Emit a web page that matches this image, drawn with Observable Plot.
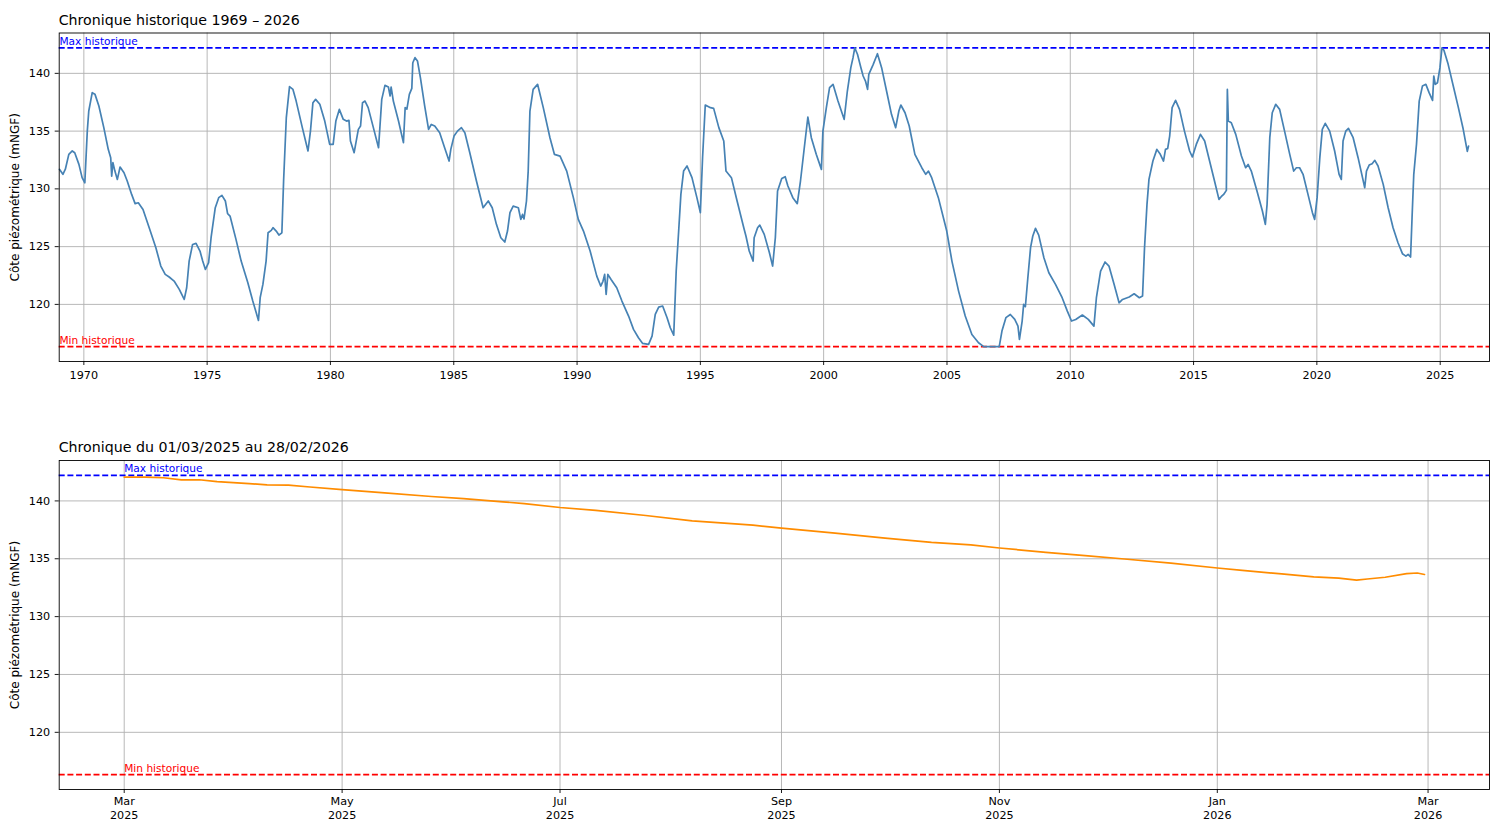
<!DOCTYPE html>
<html><head><meta charset="utf-8">
<script src="https://cdn.jsdelivr.net/npm/d3@7"></script>
<script src="https://cdn.jsdelivr.net/npm/@observablehq/plot@0.6"></script>
<style>
body{margin:0;background:#fff;font-family:"DejaVu Sans",sans-serif;}
#wrap{position:relative;width:1491px;height:821px;overflow:hidden;}
.title{position:absolute;left:58.7px;font-size:14.2px;line-height:1;color:#000;white-space:nowrap;font-family:"DejaVu Sans",sans-serif;}
svg{display:block}
</style></head><body>
<div id="wrap">
  <div id="p1"></div>
  <div id="p2"></div>
  <div class="title" style="top:12.5px">Chronique historique 1969 – 2026</div>
  <div class="title" style="top:440px">Chronique du 01/03/2025 au 28/02/2026</div>
</div>
<script>
// ---- Data ----
const MAX_HIST = 142.2;
const MIN_HIST = 116.35;

const histYears = [
1969.01,1969.15,1969.25,1969.39,1969.53,1969.63,1969.80,1969.93,1970.04,1970.14,1970.20,1970.34,1970.45,1970.61,1970.81,1970.99,
1971.09,1971.13,1971.18,1971.26,1971.36,1971.47,1971.63,1971.76,1971.94,1972.08,1972.21,1972.40,1972.65,1972.92,1973.12,1973.30,
1973.46,1973.66,1973.87,1974.07,1974.17,1974.27,1974.41,1974.55,1974.71,1974.82,1974.93,1975.06,1975.16,1975.33,1975.47,1975.60,
1975.74,1975.83,1975.93,1976.17,1976.38,1976.65,1976.85,1976.99,1977.08,1977.15,1977.26,1977.39,1977.47,1977.60,1977.67,1977.80,
1977.91,1978.03,1978.10,1978.21,1978.34,1978.48,1978.61,1978.86,1979.09,1979.19,1979.29,1979.40,1979.57,1979.77,1979.97,1980.11,
1980.22,1980.36,1980.52,1980.65,1980.75,1980.81,1980.96,1981.13,1981.22,1981.30,1981.40,1981.53,1981.74,1981.95,1982.08,1982.21,
1982.35,1982.42,1982.46,1982.55,1982.76,1982.96,1983.03,1983.10,1983.20,1983.30,1983.34,1983.43,1983.53,1983.65,1983.82,1983.98,
1984.09,1984.23,1984.43,1984.63,1984.81,1984.88,1985.01,1985.15,1985.31,1985.45,1985.65,1985.92,1986.19,1986.40,1986.56,1986.73,
1986.91,1987.07,1987.18,1987.28,1987.41,1987.62,1987.72,1987.79,1987.85,1987.95,1988.02,1988.09,1988.22,1988.40,1988.63,1988.90,
1989.08,1989.31,1989.58,1989.85,1990.05,1990.26,1990.53,1990.80,1990.96,1991.05,1991.12,1991.18,1991.25,1991.38,1991.61,1991.82,
1992.09,1992.29,1992.49,1992.66,1992.90,1993.04,1993.17,1993.31,1993.47,1993.65,1993.78,1993.92,1994.02,1994.12,1994.21,1994.32,
1994.46,1994.66,1994.86,1995.00,1995.09,1995.20,1995.41,1995.54,1995.75,1995.95,1996.04,1996.26,1996.49,1996.76,1996.85,1996.98,
1997.14,1997.18,1997.32,1997.41,1997.59,1997.80,1997.93,1998.04,1998.13,1998.30,1998.44,1998.55,1998.75,1998.93,1999.06,1999.20,
1999.36,1999.50,1999.70,1999.91,1999.97,2000.11,2000.24,2000.38,2000.58,2000.83,2000.96,2001.10,2001.19,2001.26,2001.37,2001.51,
2001.60,2001.70,2001.78,2001.83,2002.01,2002.18,2002.35,2002.55,2002.75,2002.92,2003.05,2003.13,2003.30,2003.47,2003.70,2003.98,
2004.14,2004.25,2004.38,2004.65,2004.99,2005.20,2005.47,2005.74,2006.01,2006.28,2006.49,2006.82,2007.12,2007.23,2007.39,2007.57,
2007.75,2007.88,2007.94,2008.05,2008.11,2008.18,2008.28,2008.39,2008.48,2008.59,2008.72,2008.93,2009.13,2009.40,2009.67,2009.88,
2010.05,2010.22,2010.49,2010.73,2010.96,2011.06,2011.23,2011.41,2011.57,2011.78,2011.98,2012.12,2012.39,2012.59,2012.80,2012.93,
2013.01,2013.11,2013.19,2013.35,2013.51,2013.65,2013.78,2013.86,2013.95,2014.03,2014.13,2014.27,2014.43,2014.63,2014.84,2014.95,
2015.11,2015.28,2015.45,2015.65,2015.85,2016.03,2016.12,2016.22,2016.33,2016.37,2016.41,2016.53,2016.71,2016.94,2017.11,2017.21,
2017.34,2017.57,2017.79,2017.91,2017.98,2018.09,2018.19,2018.33,2018.49,2018.69,2018.90,2019.06,2019.17,2019.30,2019.44,2019.64,
2019.82,2019.91,2020.01,2020.12,2020.22,2020.34,2020.52,2020.72,2020.90,2020.99,2021.06,2021.17,2021.28,2021.47,2021.67,2021.85,
2021.94,2022.01,2022.12,2022.24,2022.35,2022.48,2022.69,2022.89,2023.09,2023.29,2023.47,2023.61,2023.70,2023.80,2023.86,2023.93,
2024.04,2024.15,2024.28,2024.42,2024.55,2024.69,2024.74,2024.80,2024.89,2024.99,2025.07,2025.15,2025.32,2025.53,2025.73,2025.93,
2026.07,2026.10,2026.15
];
const histValues = [
131.69,131.26,131.70,132.99,133.28,133.13,132.12,130.97,130.53,135.00,136.74,138.33,138.20,137.17,135.30,133.42,
132.70,131.10,132.27,131.54,130.82,131.89,131.40,130.68,129.52,128.72,128.80,128.22,126.64,124.91,123.32,122.60,
122.37,122.02,121.30,120.43,121.44,123.75,125.19,125.28,124.62,123.75,123.03,123.61,125.77,128.37,129.24,129.44,
128.95,127.85,127.65,125.63,123.75,121.88,120.29,119.28,118.61,120.58,121.73,123.75,126.20,126.41,126.64,126.35,
126.00,126.20,130.68,136.16,138.85,138.61,137.60,135.30,133.28,135.00,137.46,137.75,137.32,135.87,133.85,133.85,
135.87,136.88,136.02,135.87,135.93,134.14,133.13,135.15,135.44,137.46,137.60,137.03,135.30,133.56,137.75,138.96,
138.82,138.04,138.82,137.60,135.87,134.00,137.03,136.90,138.18,138.70,140.92,141.36,141.07,139.60,137.20,135.15,
135.58,135.44,134.86,133.56,132.41,133.42,134.57,135.00,135.30,134.86,133.13,130.68,128.37,128.95,128.37,126.93,
125.77,125.40,126.35,127.94,128.51,128.37,127.36,127.79,127.40,128.95,131.54,136.74,138.61,139.05,137.03,134.43,
132.99,132.84,131.54,129.24,127.36,126.35,124.62,122.45,121.59,122.00,122.60,120.87,122.60,122.16,121.44,120.29,
118.99,117.84,117.11,116.62,116.54,117.26,119.13,119.77,119.86,118.85,117.98,117.34,122.89,126.35,129.52,131.54,
131.98,130.97,129.24,127.94,132.70,137.26,137.03,136.97,135.30,134.14,131.54,130.97,128.95,126.64,125.90,124.62,
123.75,125.77,126.64,126.87,126.06,124.47,123.32,125.77,129.81,130.90,131.05,130.25,129.24,128.72,130.68,133.28,
136.22,134.43,132.99,131.69,135.00,137.03,138.76,139.05,137.60,136.02,138.47,140.49,141.36,142.20,141.65,140.49,
139.77,139.30,138.61,139.91,140.78,141.70,140.49,138.47,136.45,135.30,136.74,137.26,136.59,135.44,132.99,131.83,
131.26,131.54,130.97,129.24,126.35,123.75,121.15,118.99,117.40,116.68,116.35,116.35,116.35,117.69,118.85,119.13,
118.70,118.12,116.97,118.56,120.00,119.80,122.31,124.91,125.92,126.58,126.00,124.04,122.74,121.73,120.58,119.42,
118.56,118.70,119.08,118.70,118.12,120.58,122.89,123.67,123.32,121.73,120.14,120.43,120.64,120.92,120.58,120.72,
124.91,128.66,130.82,132.41,133.42,132.99,132.41,133.42,133.50,134.57,137.03,137.66,136.88,135.00,133.28,132.76,
133.85,134.72,134.14,132.41,130.68,129.09,129.32,129.52,129.87,138.61,135.87,135.73,134.72,132.84,131.83,132.12,
131.54,129.81,128.08,126.93,128.66,134.43,136.59,137.32,136.88,135.00,132.99,131.54,131.83,131.83,131.26,129.52,
127.94,127.36,129.24,132.70,135.15,135.67,135.00,133.28,131.26,130.82,134.14,135.00,135.24,134.43,132.70,130.97,
130.10,131.54,132.06,132.18,132.47,131.98,130.39,128.37,126.64,125.34,124.39,124.18,124.33,124.10,127.50,131.26,
133.85,137.60,138.90,139.05,138.33,137.66,139.77,139.05,139.19,140.49,142.20,142.00,140.80,138.90,137.10,135.20,
133.60,133.25,133.70
];

const recentDates = [
"2025-03-01","2025-03-07","2025-03-12","2025-03-17","2025-03-22","2025-03-27","2025-04-05","2025-04-10","2025-04-16","2025-04-22",
"2025-05-01","2025-05-12","2025-05-26","2025-06-04","2025-06-15","2025-06-21","2025-07-01","2025-07-11","2025-07-25","2025-08-07",
"2025-08-24","2025-09-01","2025-09-16","2025-09-30","2025-10-13","2025-10-24","2025-11-01","2025-11-14","2025-11-25","2025-12-06",
"2025-12-19","2026-01-01","2026-01-08","2026-01-19","2026-01-28","2026-02-04","2026-02-09","2026-02-12","2026-02-17","2026-02-23",
"2026-02-26","2026-02-28"
];
const recentValues = [
142.06,142.05,142.00,141.82,141.83,141.66,141.50,141.38,141.36,141.20,
140.97,140.72,140.38,140.20,139.92,139.77,139.43,139.18,138.74,138.28,
137.90,137.64,137.21,136.78,136.42,136.20,135.93,135.56,135.27,134.98,
134.62,134.20,134.00,133.69,133.43,133.32,133.15,133.25,133.40,133.72,
133.77,133.64
];

const yTicks = [120, 125, 130, 135, 140];
const histTickYears = [1970,1975,1980,1985,1990,1995,2000,2005,2010,2015,2020,2025];
const histXDomainYears = [1969, 2027];
const recentTicks = ["2025-03-01","2025-05-01","2025-07-01","2025-09-01","2025-11-01","2026-01-01","2026-03-01"];

const Y_LABEL = "Côte piézométrique (mNGF)";
const MAX_LABEL = "Max historique";
const MIN_LABEL = "Min historique";

// ---- Build tables ----
const toDate = y => { const yr = Math.floor(y); const s = Date.UTC(yr,0,1), e = Date.UTC(yr+1,0,1); return new Date(s + (y - yr) * (e - s)); };
const parseDay = s => new Date(s + "T00:00:00Z");
const hist = histYears.map((y, i) => ({date: toDate(y), value: histValues[i]}));
const recent = recentDates.map((d, i) => ({date: parseDay(d), value: recentValues[i]}));

const span = MAX_HIST - MIN_HIST;
const yDomain = [MIN_HIST - 0.05 * span, MAX_HIST + 0.05 * span];

const r0 = recent[0].date, r1 = recent[recent.length - 1].date;
const rPad = 0.05 * (r1 - r0);
const recentDomain = [new Date(+r0 - rPad), new Date(+r1 + rPad)];

function panel({data, color, xDomain, xTicks, xFormat, labelX, height, marginTop, marginBottom, tickPadX, lineHeight}) {
  const gridStyle = {stroke: "#b0b0b0", strokeOpacity: 1, strokeWidth: 0.9};
  const dash = "6,2.7";
  return Plot.plot({
    width: 1491, height, marginTop, marginBottom, marginLeft: 58.7, marginRight: 2,
    style: {fontFamily: "DejaVu Sans", fontSize: "11.2px", color: "#000", background: "#fff", overflow: "visible"},
    x: {type: "utc", domain: xDomain},
    y: {domain: yDomain},
    marks: [
      Plot.gridX(xTicks, gridStyle),
      Plot.gridY(yTicks, gridStyle),
      Plot.ruleY([MAX_HIST], {stroke: "blue", strokeWidth: 1.7, strokeDasharray: dash}),
      Plot.ruleY([MIN_HIST], {stroke: "red", strokeWidth: 1.7, strokeDasharray: dash}),
      Plot.line(data, {x: "date", y: "value", stroke: color, strokeWidth: 1.7}),
      Plot.text([MAX_LABEL], {x: () => labelX, y: () => MAX_HIST, text: d => d, fill: "blue", textAnchor: "start", lineAnchor: "bottom", dy: -3, fontSize: 10.6}),
      Plot.text([MIN_LABEL], {x: () => labelX, y: () => MIN_HIST, text: d => d, fill: "red", textAnchor: "start", lineAnchor: "bottom", dy: -3, fontSize: 10.6}),
      Plot.frame({stroke: "black", strokeWidth: 0.9}),
      Plot.axisX(xTicks, {tickFormat: xFormat, tickSize: 4, tickPadding: tickPadX, label: null, lineHeight, strokeWidth: 0.9}),
      Plot.axisY(yTicks, {tickSize: 4, tickPadding: 5, label: null, strokeWidth: 0.9}),
      Plot.text([Y_LABEL], {frameAnchor: "left", text: d => d, rotate: -90, dx: -43.7, fontSize: 12, textAnchor: "middle", fill: "black"})
    ]
  });
}

const p1 = panel({
  data: hist, color: "steelblue",
  xDomain: histXDomainYears.map(y => new Date(Date.UTC(y, 0, 1))),
  xTicks: histTickYears.map(y => new Date(Date.UTC(y, 0, 1))),
  xFormat: d3.utcFormat("%Y"),
  labelX: hist[0].date,
  height: 400, marginTop: 32.5, marginBottom: 39, tickPadX: 5.5, lineHeight: 1
});
document.getElementById("p1").appendChild(p1);

const p2 = panel({
  data: recent, color: "darkorange",
  xDomain: recentDomain,
  xTicks: recentTicks.map(parseDay),
  xFormat: d3.utcFormat("%b\n%Y"),
  labelX: recent[0].date,
  height: 421, marginTop: 60, marginBottom: 32, tickPadX: 2, lineHeight: 1.24
});
document.getElementById("p2").appendChild(p2);
</script>
</body></html>
